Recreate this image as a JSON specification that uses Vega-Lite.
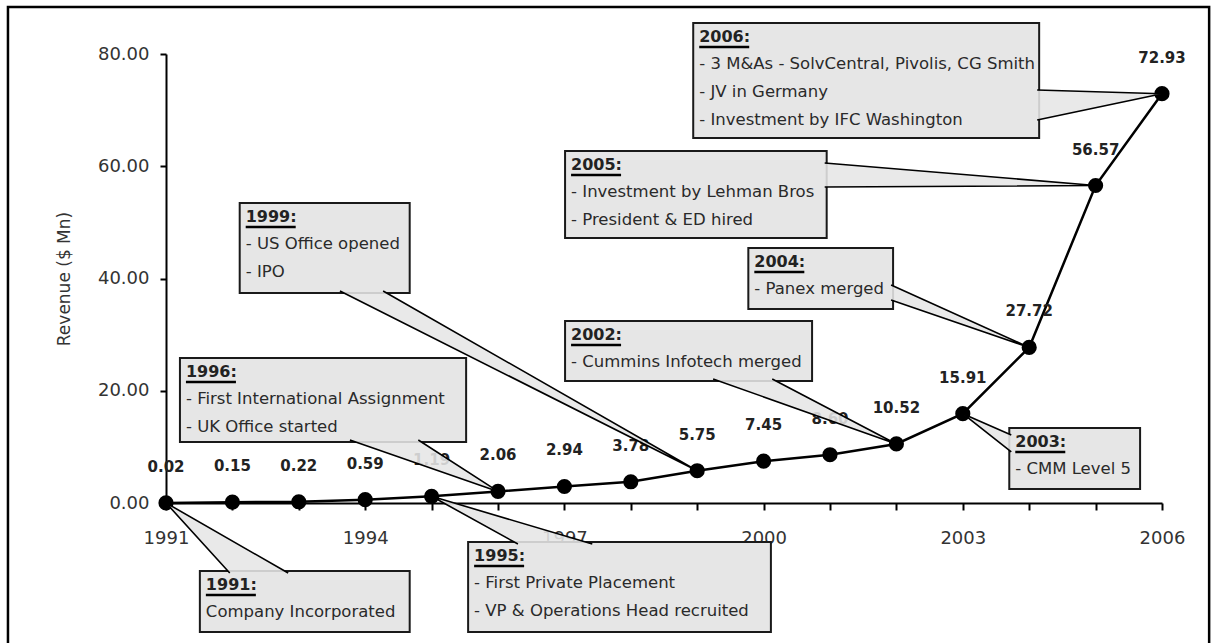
{
  "$schema": "https://vega.github.io/schema/vega-lite/v6.json",
  "width": 996,
  "height": 449,
  "autosize": {"type": "none"},
  "padding": {"left": 166, "top": 54, "right": 53, "bottom": 140},
  "background": "#ffffff",
  "config": {"view": {"stroke": null}, "font": "DejaVu Sans"},
  "datasets": {
    "revenue": [
      {"year": 1991, "revenue": 0.02},
      {"year": 1992, "revenue": 0.15},
      {"year": 1993, "revenue": 0.22},
      {"year": 1994, "revenue": 0.59},
      {"year": 1995, "revenue": 1.19},
      {"year": 1996, "revenue": 2.06},
      {"year": 1997, "revenue": 2.94},
      {"year": 1998, "revenue": 3.78},
      {"year": 1999, "revenue": 5.75},
      {"year": 2000, "revenue": 7.45},
      {"year": 2001, "revenue": 8.60},
      {"year": 2002, "revenue": 10.52},
      {"year": 2003, "revenue": 15.91},
      {"year": 2004, "revenue": 27.72},
      {"year": 2005, "revenue": 56.57},
      {"year": 2006, "revenue": 72.93}
    ],
    "frame": [
      {"fx1": 1988.62, "fx2": 2006.71, "fy1": 88.37, "fy2": -28}
    ],
    "boxes": [
      {"id": "2006", "x1": 1998.94, "x2": 2004.15, "yt": 85.52, "yb": 65.03, "title": "2006:", "body": "- 3 M&As - SolvCentral, Pivolis, CG Smith\n- JV in Germany\n- Investment by IFC Washington"},
      {"id": "2005", "x1": 1997.01, "x2": 2000.95, "yt": 62.72, "yb": 47.22, "title": "2005:", "body": "- Investment by Lehman Bros\n- President & ED hired"},
      {"id": "2004", "x1": 1999.77, "x2": 2001.95, "yt": 45.43, "yb": 34.57, "title": "2004:", "body": "- Panex merged"},
      {"id": "2002", "x1": 1997.01, "x2": 2000.73, "yt": 32.43, "yb": 21.74, "title": "2002:", "body": "- Cummins Infotech merged"},
      {"id": "1999", "x1": 1992.11, "x2": 1994.67, "yt": 53.45, "yb": 37.42, "title": "1999:", "body": "- US Office opened\n- IPO"},
      {"id": "1996", "x1": 1991.21, "x2": 1995.52, "yt": 25.84, "yb": 10.87, "title": "1996:", "body": "- First International Assignment\n- UK Office started"},
      {"id": "1991", "x1": 1991.51, "x2": 1994.67, "yt": -12.12, "yb": -22.98, "title": "1991:", "body": "Company Incorporated"},
      {"id": "1995", "x1": 1995.55, "x2": 2000.11, "yt": -6.95, "yb": -22.98, "title": "1995:", "body": "- First Private Placement\n- VP & Operations Head recruited"},
      {"id": "2003", "x1": 2003.70, "x2": 2005.67, "yt": 13.36, "yb": 2.49, "title": "2003:", "body": "- CMM Level 5"}
    ],
    "wedges": [
      {"id": "2006", "ord": 1, "wx": 2004.12, "wy": 73.59},
      {"id": "2006", "ord": 2, "wx": 2006, "wy": 72.93},
      {"id": "2006", "ord": 3, "wx": 2004.12, "wy": 68.24},
      {"id": "2005", "ord": 1, "wx": 2000.92, "wy": 60.58},
      {"id": "2005", "ord": 2, "wx": 2005, "wy": 56.57},
      {"id": "2005", "ord": 3, "wx": 2000.92, "wy": 56.30},
      {"id": "2004", "ord": 1, "wx": 2001.92, "wy": 38.84},
      {"id": "2004", "ord": 2, "wx": 2004, "wy": 27.72},
      {"id": "2004", "ord": 3, "wx": 2001.92, "wy": 36.17},
      {"id": "2002", "ord": 1, "wx": 1999.24, "wy": 22.10},
      {"id": "2002", "ord": 2, "wx": 2002, "wy": 10.52},
      {"id": "2002", "ord": 3, "wx": 2000.13, "wy": 22.10},
      {"id": "1999", "ord": 1, "wx": 1993.62, "wy": 37.78},
      {"id": "1999", "ord": 2, "wx": 1999, "wy": 5.75},
      {"id": "1999", "ord": 3, "wx": 1994.27, "wy": 37.78},
      {"id": "1996", "ord": 1, "wx": 1993.77, "wy": 11.23},
      {"id": "1996", "ord": 2, "wx": 1996, "wy": 2.06},
      {"id": "1996", "ord": 3, "wx": 1994.80, "wy": 11.23},
      {"id": "1991", "ord": 1, "wx": 1991.96, "wy": -12.48},
      {"id": "1991", "ord": 2, "wx": 1991, "wy": 0.02},
      {"id": "1991", "ord": 3, "wx": 1992.84, "wy": -12.48},
      {"id": "1995", "ord": 1, "wx": 1996.30, "wy": -7.31},
      {"id": "1995", "ord": 2, "wx": 1995, "wy": 1.19},
      {"id": "1995", "ord": 3, "wx": 1997.42, "wy": -7.31},
      {"id": "2003", "ord": 1, "wx": 2003.73, "wy": 12.12},
      {"id": "2003", "ord": 2, "wx": 2003, "wy": 15.91},
      {"id": "2003", "ord": 3, "wx": 2003.73, "wy": 9.09}
    ]
  },
  "layer": [
    {
      "data": {"name": "revenue"},
      "mark": {"type": "line", "color": "#000000", "strokeWidth": 2.5},
      "encoding": {
        "x": {
          "field": "year", "type": "quantitative",
          "scale": {"domain": [1991, 2006], "nice": false, "zero": false},
          "axis": {
            "title": null, "values": [1991,1992,1993,1994,1995,1996,1997,1998,1999,2000,2001,2002,2003,2004,2005,2006],
            "format": "d", "labelExpr": "(datum.value - 1991) % 3 === 0 ? datum.label : ''",
            "labelFont": "DejaVu Sans", "labelFontSize": 18, "labelColor": "#333333",
            "labelPadding": 19, "labelFlush": false, "labelOverlap": false,
            "domainColor": "#000000", "domainWidth": 2, "tickColor": "#000000", "tickWidth": 2, "tickSize": 7,
            "grid": false
          }
        },
        "y": {
          "field": "revenue", "type": "quantitative",
          "scale": {"domain": [0, 80], "nice": false, "zero": false},
          "axis": {
            "title": "Revenue ($ Mn)", "titleFont": "DejaVu Sans", "titleFontSize": 17, "titleFontWeight": "normal",
            "titleColor": "#333333", "titlePadding": 24,
            "values": [0, 20, 40, 60, 80], "format": ".2f",
            "labelFont": "DejaVu Sans", "labelFontSize": 18, "labelColor": "#333333", "labelPadding": 11,
            "domainColor": "#000000", "domainWidth": 2, "tickColor": "#000000", "tickWidth": 2, "tickSize": 6,
            "grid": false
          }
        }
      }
    },
    {
      "data": {"name": "frame"},
      "mark": {"type": "rect", "fill": null, "fillOpacity": 0, "stroke": "#000000", "strokeWidth": 2.5, "clip": false},
      "encoding": {
        "x": {"field": "fx1", "type": "quantitative"},
        "x2": {"field": "fx2"},
        "y": {"field": "fy1", "type": "quantitative"},
        "y2": {"field": "fy2"}
      }
    },
    {
      "data": {"name": "revenue"},
      "mark": {"type": "point", "filled": true, "color": "#000000", "size": 230, "opacity": 1},
      "encoding": {
        "x": {"field": "year", "type": "quantitative"},
        "y": {"field": "revenue", "type": "quantitative"}
      }
    },
    {
      "data": {"name": "revenue"},
      "mark": {"type": "text", "font": "DejaVu Sans", "fontSize": 15, "fontWeight": "bold", "color": "#222222", "dy": -36, "align": "center", "baseline": "middle"},
      "encoding": {
        "x": {"field": "year", "type": "quantitative"},
        "y": {"field": "revenue", "type": "quantitative"},
        "text": {"field": "revenue", "type": "quantitative", "format": ".2f"}
      }
    },
    {
      "data": {"name": "boxes"},
      "mark": {"type": "rect", "fill": "#e6e6e6", "stroke": "#1a1a1a", "strokeWidth": 2, "clip": false},
      "encoding": {
        "x": {"field": "x1", "type": "quantitative"},
        "x2": {"field": "x2"},
        "y": {"field": "yt", "type": "quantitative"},
        "y2": {"field": "yb"}
      }
    },
    {
      "data": {"name": "wedges"},
      "mark": {"type": "line", "fill": "#e6e6e6", "fillOpacity": 0.88, "stroke": "#000000", "strokeWidth": 1.6, "clip": false},
      "encoding": {
        "x": {"field": "wx", "type": "quantitative"},
        "y": {"field": "wy", "type": "quantitative"},
        "detail": {"field": "id", "type": "nominal"},
        "order": {"field": "ord", "type": "quantitative"}
      }
    },
    {
      "data": {"name": "boxes"},
      "mark": {"type": "text", "font": "DejaVu Sans", "fontSize": 16, "fontWeight": "bold", "color": "#222222", "align": "left", "baseline": "middle", "dx": 6, "dy": 14},
      "encoding": {
        "x": {"field": "x1", "type": "quantitative"},
        "y": {"field": "yt", "type": "quantitative"},
        "text": {"field": "title", "type": "nominal"}
      }
    },
    {
      "data": {"name": "boxes"},
      "mark": {"type": "rule", "color": "#000000", "strokeWidth": 2.5, "xOffset": 6, "x2Offset": 56, "yOffset": 24, "y2Offset": 24},
      "encoding": {
        "x": {"field": "x1", "type": "quantitative"},
        "x2": {"field": "x1"},
        "y": {"field": "yt", "type": "quantitative"},
        "y2": {"field": "yt"}
      }
    },
    {
      "data": {"name": "boxes"},
      "mark": {"type": "text", "font": "DejaVu Sans", "fontSize": 16.5, "color": "#2a2a2a", "align": "left", "baseline": "top", "dx": 6, "dy": 33, "lineBreak": "\n", "lineHeight": 28},
      "encoding": {
        "x": {"field": "x1", "type": "quantitative"},
        "y": {"field": "yt", "type": "quantitative"},
        "text": {"field": "body", "type": "nominal"}
      }
    }
  ]
}
